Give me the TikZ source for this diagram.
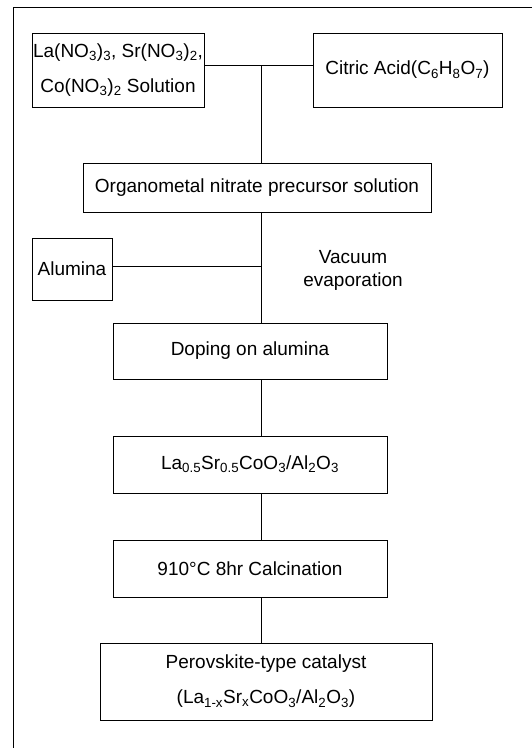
\documentclass[tikz,border=0pt]{standalone}
\usepackage{fontspec}
\setmainfont{Liberation Sans}
\begin{document}
\begin{tikzpicture}[x=1pt,y=-1pt,
  box/.style={draw,line width=1pt,inner sep=0pt,align=center,font=\fontsize{19}{35}\selectfont},
  ln/.style={line width=1pt}]
\useasboundingbox (0,0) rectangle (532,748);
% frame (left and top edges)
\draw[ln] (13,748) -- (13,7) -- (532,7);
\node[box,minimum width=172pt,minimum height=74pt] (sol) at (118,70) {La(NO\textsubscript{3})\textsubscript{3}, Sr(NO\textsubscript{3})\textsubscript{2},\\Co(NO\textsubscript{3})\textsubscript{2} Solution};
\node[box,minimum width=189pt,minimum height=74pt] (cit) at (407.5,70) {Citric Acid(C\textsubscript{6}H\textsubscript{8}O\textsubscript{7})};
\node[box,minimum width=348pt,minimum height=49pt] (org) at (257,187.5) {Organometal nitrate precursor solution};
\node[box,minimum width=80pt,minimum height=62pt] (alu) at (72,269) {Alumina};
\node[align=center,font=\fontsize{19}{23}\selectfont] (vac) at (353,270) {Vacuum\\evaporation};
\node[box,minimum width=274pt,minimum height=56pt] (dop) at (250,351) {Doping on alumina};
\node[box,minimum width=274pt,minimum height=57pt] (las) at (250,464.5) {La\textsubscript{0.5}Sr\textsubscript{0.5}CoO\textsubscript{3}/Al\textsubscript{2}O\textsubscript{3}};
\node[box,minimum width=274pt,minimum height=57pt] (cal) at (250,568.5) {910°C 8hr Calcination};
\node[box,minimum width=332pt,minimum height=77pt] (per) at (266,681.5) {Perovskite-type catalyst\\(La\textsubscript{1-x}Sr\textsubscript{x}CoO\textsubscript{3}/Al\textsubscript{2}O\textsubscript{3})};
\coordinate (j) at (261,65);
\draw[ln] ([yshift=5pt]sol.east) -- ([yshift=5pt]cit.west);
\draw[ln] (j) -- (j |- org.north);
\draw[ln] (org.south -| j) -- (dop.north -| j);
\draw[ln] ([yshift=3pt]alu.east) -- ([yshift=3pt]alu.east -| j);
\draw[ln] (dop.south -| j) -- (las.north -| j);
\draw[ln] (las.south -| j) -- (cal.north -| j);
\draw[ln] (cal.south -| j) -- (per.north -| j);
\end{tikzpicture}
\end{document}
